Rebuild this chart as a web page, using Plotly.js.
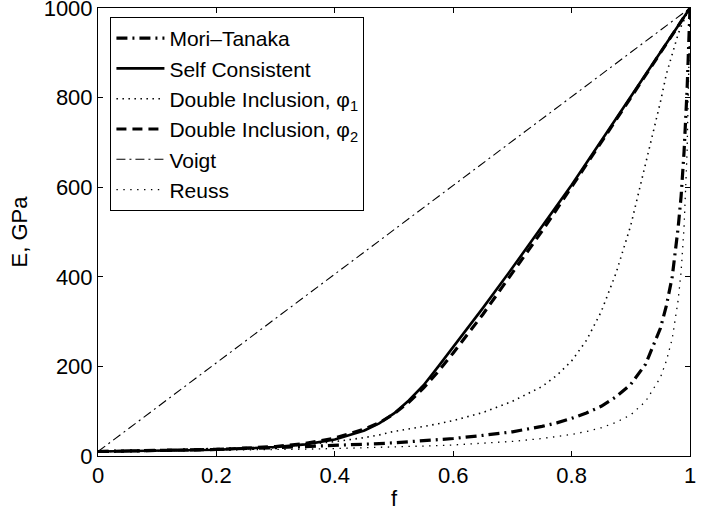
<!DOCTYPE html>
<html>
<head>
<meta charset="utf-8">
<script src="https://cdn.plot.ly/plotly-3.0.1.min.js"></script>
<style>html,body{margin:0;padding:0;background:#fff;}#chart{width:720px;height:511px;}</style>
</head>
<body>
<div id="chart"></div>
<script>
// Volume fraction f
const fGrid = [0, 0.1, 0.2, 0.3, 0.35, 0.4, 0.45, 0.475, 0.5, 0.525, 0.55, 0.575, 0.6, 0.65, 0.7, 0.75, 0.775, 0.8, 0.825, 0.85, 0.875, 0.9, 0.925, 0.95, 0.96, 0.97, 0.98, 0.985, 0.99, 0.995, 1];
// E, GPa for each model
const moriTanaka = [10, 12.2, 15, 18.5, 20.7, 23.1, 26, 27.7, 29.5, 31.7, 34, 36.4, 39, 46, 54, 66, 74, 84, 96, 111, 132, 160, 205, 285, 335, 400, 510, 580, 680, 815, 1000];
const selfConsistent = [10, 11.5, 14, 20, 26, 37, 57, 73, 95, 124, 158, 200, 243, 330, 420, 512, 558, 605, 654, 703, 752, 802, 851, 901, 921, 941, 960, 970, 980, 990, 1000];
const doubleInclusion1 = [10, 11.3, 13.5, 19, 25, 32, 41, 47, 55, 60, 66, 72, 79, 97, 122, 155, 180, 212, 258, 322, 408, 515, 650, 790, 852, 900, 942, 959, 975, 988, 1000];
const doubleInclusion2 = [10, 11.8, 14.6, 21, 28, 40, 60, 74, 94, 120, 152, 189, 230, 316, 408, 502, 551, 600, 650, 700, 750, 800, 850, 900, 920, 940, 960, 970, 980, 990, 1000];
const voigtF = [0, 1];
const voigt = [10, 1000];
const reuss = [10, 11.1, 12.5, 14.2, 15.3, 16.6, 18.1, 18.9, 19.8, 20.8, 22.0, 23.2, 24.6, 28.0, 32.6, 39.0, 43.2, 48.1, 54.6, 63, 75, 92, 122, 175, 212, 262, 348, 412, 512, 675, 1000];

const seriesNames = ['Mori–Tanaka', 'Self Consistent', 'Double Inclusion, φ<sub>1</sub>', 'Double Inclusion, φ<sub>2</sub>', 'Voigt', 'Reuss'];
const xTicks = [0, 0.2, 0.4, 0.6, 0.8, 1];
const xTickText = ['0', '0.2', '0.4', '0.6', '0.8', '1'];
const yTicks = [0, 200, 400, 600, 800, 1000];

const traces = [
  {x: fGrid, y: moriTanaka, name: seriesNames[0], mode: 'lines', line: {color: '#000', width: 3.2, dash: '11px,5px,2px,5px'}},
  {x: fGrid, y: selfConsistent, name: seriesNames[1], mode: 'lines', line: {color: '#000', width: 2.6}},
  {x: fGrid, y: doubleInclusion1, name: seriesNames[2], mode: 'lines', line: {color: '#000', width: 1.6, dash: '1.5px,4.5px'}},
  {x: fGrid, y: doubleInclusion2, name: seriesNames[3], mode: 'lines', line: {color: '#000', width: 3.2, dash: '10px,6px'}},
  {x: voigtF, y: voigt, name: seriesNames[4], mode: 'lines', line: {color: '#000', width: 1.1, dash: '9px,4px,2px,4px'}},
  {x: fGrid, y: reuss, name: seriesNames[5], mode: 'lines', line: {color: '#000', width: 1.3, dash: '1.4px,5.5px'}}
];

const fontFam = 'Liberation Sans, Arial, Helvetica, sans-serif';
const axisCommon = {
  showline: true, linecolor: '#000', linewidth: 1, mirror: 'ticks',
  ticks: 'inside', ticklen: 5, tickcolor: '#000', tickwidth: 1,
  showgrid: false, zeroline: false, ticklabeloverflow: 'allow',
  tickfont: {family: fontFam, size: 22, color: '#000'}
};

const layout = {
  width: 720, height: 511,
  margin: {l: 98, r: 30, t: 8, b: 55, pad: 0},
  paper_bgcolor: '#fff', plot_bgcolor: '#fff',
  font: {family: fontFam, size: 22, color: '#000'},
  showlegend: true,
  xaxis: Object.assign({}, axisCommon, {
    range: [0, 1], tickvals: xTicks, ticktext: xTickText,
    title: {text: 'f', font: {family: fontFam, size: 22, color: '#000'}, standoff: 9}
  }),
  yaxis: Object.assign({}, axisCommon, {
    range: [0, 1000], tickvals: yTicks,
    title: {text: 'E, GPa', font: {family: fontFam, size: 22, color: '#000'}, standoff: 9}
  }),
  legend: {
    x: 0.021, y: 0.98, xanchor: 'left', yanchor: 'top',
    bgcolor: '#fff', bordercolor: '#000', borderwidth: 1,
    font: {family: fontFam, size: 21, color: '#000'},
    itemwidth: 48, tracegroupgap: 0
  }
};

Plotly.newPlot('chart', traces, layout, {staticPlot: true, displayModeBar: false});
</script>
</body>
</html>
